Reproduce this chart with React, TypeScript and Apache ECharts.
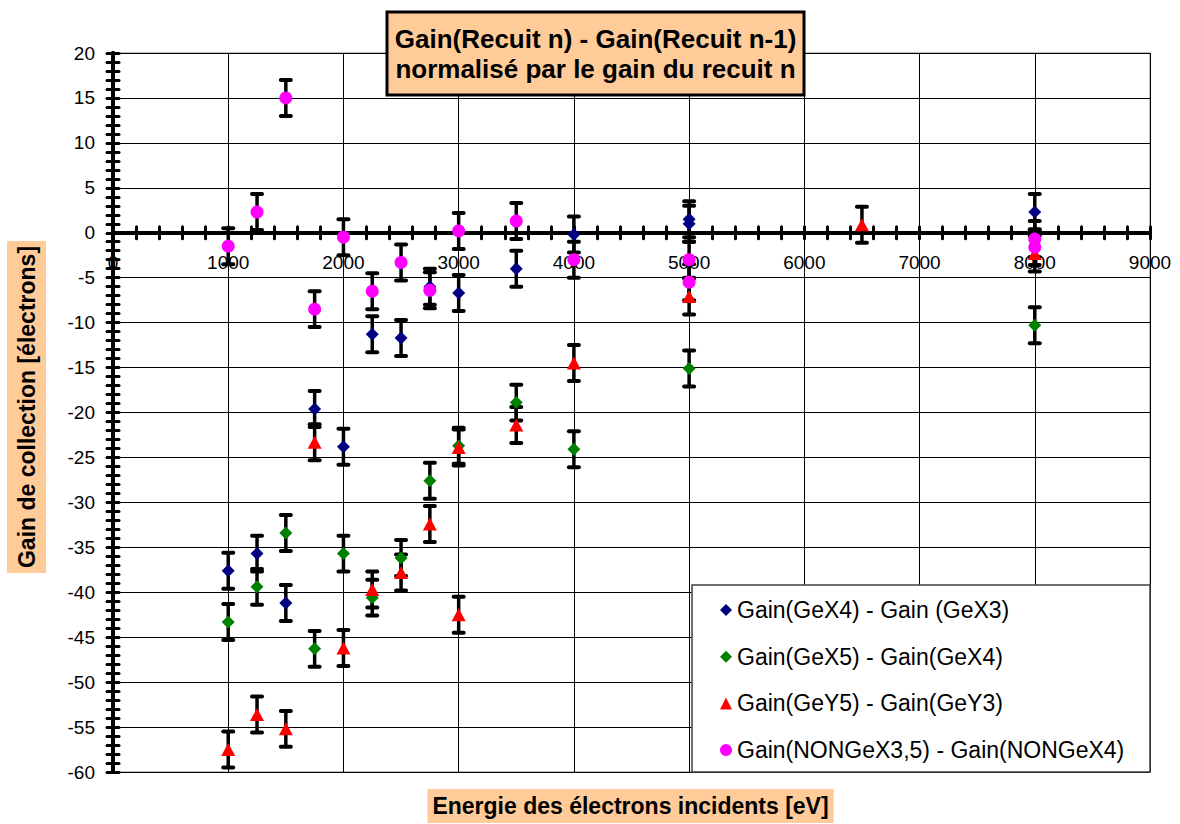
import React, { useEffect, useRef } from "react";
import * as echarts from "echarts";

// ---- Data ----
const blueX = [1000, 1250, 1500, 1750, 2000, 2250, 2500, 2750, 3000, 3500, 4000, 5000, 5000, 8000];
const blueY = [-37.6, -35.7, -41.2, -19.6, -23.8, -11.3, -11.7, -6.0, -6.7, -4.0, -0.2, 1.5, 1.0, 2.3];

const greenX = [1000, 1250, 1500, 1750, 2000, 2250, 2500, 2750, 3000, 3500, 4000, 5000, 8000];
const greenY = [-43.3, -39.4, -33.4, -46.3, -35.7, -40.6, -36.2, -27.6, -23.7, -18.9, -24.1, -15.1, -10.3];

const redX = [1000, 1250, 1500, 1750, 2000, 2250, 2500, 2750, 3000, 3000, 3500, 4000, 5000, 6500, 8000];
const redY = [-57.5, -53.6, -55.2, -23.3, -46.2, -39.7, -37.8, -32.4, -23.9, -42.5, -21.4, -14.5, -7.1, 0.9, -2.3];

const magentaX = [1000, 1250, 1500, 1750, 2000, 2250, 2500, 2750, 3000, 3500, 4000, 5000, 5000, 8000, 8000];
const magentaY = [-1.5, 2.3, 15, -8.5, -0.5, -6.5, -3.3, -6.4, 0.2, 1.3, -3.0, -3.0, -5.5, -0.7, -1.6];

const errorMargin = 2; // fixed-value error bars (±)

const seriesNames = [
  "Gain(GeX4) - Gain (GeX3)",
  "Gain(GeX5) - Gain(GeX4)",
  "Gain(GeY5) - Gain(GeY3)",
  "Gain(NONGeX3,5) - Gain(NONGeX4)",
];

const titleText = "Gain(Recuit n) - Gain(Recuit n-1)\nnormalisé par le gain du recuit n";
const xAxisTitle = "Energie des électrons incidents [eV]";
const yAxisTitle = "Gain de collection [électrons]";

const X_MIN = 0;
const X_MAX = 9000;
const X_STEP = 1000;
const Y_MIN = -60;
const Y_MAX = 20;
const Y_STEP = 5;

const FONT = '"Liberation Sans", Arial, Helvetica, sans-serif';

const seriesDefs = [
  { name: seriesNames[0], xs: blueX, ys: blueY, color: "#000080", symbol: "diamond", size: [13, 13] },
  { name: seriesNames[1], xs: greenX, ys: greenY, color: "#008000", symbol: "diamond", size: [13, 13] },
  { name: seriesNames[2], xs: redX, ys: redY, color: "#FF0000", symbol: "triangle", size: [14, 13] },
  { name: seriesNames[3], xs: magentaX, ys: magentaY, color: "#FF00FF", symbol: "circle", size: 13 },
];

function errorBarSeries(xs: number[], ys: number[]) {
  return {
    type: "custom",
    silent: true,
    xAxisIndex: 0,
    yAxisIndex: 0,
    data: xs.map((x, i) => [x, ys[i], errorMargin]),
    encode: { x: 0, y: 1 },
    renderItem: (_params: any, api: any) => {
      const x = api.value(0);
      const y = api.value(1);
      const e = api.value(2);
      const top = api.coord([x, y + e]);
      const bot = api.coord([x, y - e]);
      const hw = 5;
      const barStyle = { stroke: "#000", lineWidth: 3.5, lineCap: "butt" };
      const capStyle = { stroke: "#000", lineWidth: 4, lineCap: "round" };
      return {
        type: "group",
        children: [
          { type: "line", shape: { x1: top[0], y1: top[1], x2: bot[0], y2: bot[1] }, style: barStyle },
          { type: "line", shape: { x1: top[0] - hw, y1: top[1], x2: top[0] + hw, y2: top[1] }, style: capStyle },
          { type: "line", shape: { x1: bot[0] - hw, y1: bot[1], x2: bot[0] + hw, y2: bot[1] }, style: capStyle },
        ],
      };
    },
  };
}

export default function App() {
  const ref = useRef<HTMLDivElement>(null);

  useEffect(() => {
    if (!ref.current) return;
    const chart = echarts.init(ref.current, null, { renderer: "svg" });

    const tickLine = { color: "#000", width: 3, cap: "round" };
    const axisLine = { color: "#000", width: 4 };

    const series: any[] = [];
    seriesDefs.forEach((d) => {
      series.push(errorBarSeries(d.xs, d.ys));
      series.push({
        type: "scatter",
        name: d.name,
        xAxisIndex: 0,
        yAxisIndex: 0,
        symbol: d.symbol,
        symbolSize: d.size,
        itemStyle: { color: d.color, opacity: 1 },
        data: d.xs.map((x, i) => [x, d.ys[i]]),
      });
    });

    const H = 824;
    const gridTop = 53;
    const gridBottom = 52;
    const plotH = H - gridTop - gridBottom;
    const zeroPx = gridTop + (plotH * (Y_MAX - 0)) / (Y_MAX - Y_MIN);
    const gridRect = { left: 113, top: gridTop, right: 30, bottom: gridBottom };

    const xBase = { type: "value", min: X_MIN, max: X_MAX, interval: X_STEP };
    const yBase = { type: "value", min: Y_MIN, max: Y_MAX, interval: Y_STEP };

    chart.setOption({
      animation: false,
      backgroundColor: "#fff",
      textStyle: { fontFamily: FONT, color: "#000" },
      title: {
        text: titleText,
        left: 587.5,
        top: 11.5,
        textAlign: "center",
        padding: [12, 8, 12, 8],
        backgroundColor: "#FFCC99",
        borderColor: "#000",
        borderWidth: 3,
        textStyle: { fontFamily: FONT, fontSize: 26, fontWeight: "bold", lineHeight: 30, color: "#000" },
      },
      legend: {
        orient: "vertical",
        left: 720,
        top: 598,
        padding: 0,
        itemWidth: 12,
        itemHeight: 12,
        itemGap: 22.7,
        data: seriesNames,
        textStyle: { fontFamily: FONT, fontSize: 23, lineHeight: 24, color: "#000" },
        z: 10,
      },
      grid: [
        { ...gridRect, show: true, borderColor: "#808080", borderWidth: 1, backgroundColor: "transparent" },
        { ...gridRect, show: false },
        { left: 113, right: 30, top: gridTop, bottom: H - zeroPx, show: false },
      ],
      xAxis: [
        {
          ...xBase,
          gridIndex: 0,
          axisLine: { show: true, onZero: true, lineStyle: axisLine },
          axisTick: { show: true, inside: false, length: 6, lineStyle: tickLine },
          minorTick: { show: true, splitNumber: 5, length: 6, lineStyle: tickLine },
          axisLabel: { show: false },
          splitLine: { show: true, lineStyle: { color: "#000", width: 1 } },
        },
        {
          ...xBase,
          gridIndex: 1,
          axisLine: { show: true, onZero: true, lineStyle: axisLine },
          axisTick: { show: true, inside: true, length: 6, lineStyle: tickLine },
          minorTick: { show: true, splitNumber: 5, length: 6, lineStyle: tickLine },
          axisLabel: { show: false },
          splitLine: { show: false },
        },
        {
          ...xBase,
          gridIndex: 2,
          position: "bottom",
          axisLine: { show: false, onZero: false },
          axisTick: { show: false },
          minorTick: { show: false },
          axisLabel: {
            show: true,
            fontSize: 19,
            color: "#000",
            margin: 20,
            fontFamily: FONT,
            formatter: (v: number) => String(v),
          },
          splitLine: { show: false },
        },
      ],
      yAxis: [
        {
          ...yBase,
          gridIndex: 0,
          axisLine: { show: true, lineStyle: axisLine },
          axisTick: { show: true, inside: false, length: 6, lineStyle: tickLine },
          minorTick: { show: true, splitNumber: 5, length: 6, lineStyle: tickLine },
          axisLabel: { fontSize: 19, color: "#000", margin: 18, fontFamily: FONT, formatter: (v: number) => String(v) },
          splitLine: { show: true, lineStyle: { color: "#000", width: 1 } },
        },
        {
          ...yBase,
          gridIndex: 1,
          axisLine: { show: true, lineStyle: axisLine },
          axisTick: { show: true, inside: true, length: 6, lineStyle: tickLine },
          minorTick: { show: true, splitNumber: 5, length: 6, lineStyle: tickLine },
          axisLabel: { show: false },
          splitLine: { show: false },
        },
        {
          type: "value",
          gridIndex: 2,
          min: 0,
          max: Y_MAX,
          show: false,
        },
      ],
      graphic: [
        {
          type: "rect",
          z: 3,
          shape: { x: 692, y: 585, width: 458, height: 187 },
          style: { fill: "#fff", stroke: "#404040", lineWidth: 1.5 },
        },
        {
          type: "text",
          z: 5,
          x: 630.5,
          y: 806,
          style: {
            text: xAxisTitle,
            font: `bold 23px ${FONT}`,
            fill: "#000",
            align: "center",
            verticalAlign: "middle",
            backgroundColor: "#FFCC99",
            padding: [6, 5, 5, 5],
          },
        },
        {
          type: "text",
          z: 5,
          x: 26.5,
          y: 407,
          rotation: Math.PI / 2,
          style: {
            text: yAxisTitle,
            font: `bold 23px ${FONT}`,
            fill: "#000",
            align: "center",
            verticalAlign: "middle",
            backgroundColor: "#FFCC99",
            padding: [8, 5, 8, 5],
          },
        },
      ],
      series,
    });

    return () => chart.dispose();
  }, []);

  return (
    <div
      ref={ref}
      style={{ position: "fixed", left: 0, top: 0, width: 1180, height: 824, background: "#fff" }}
    />
  );
}
